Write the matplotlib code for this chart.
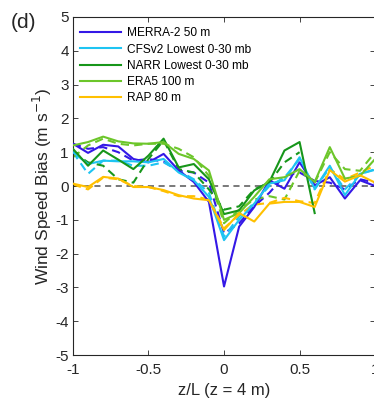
import numpy as np
import matplotlib
matplotlib.use("Agg")
import matplotlib.pyplot as plt

plt.rcParams['font.family'] = ['Liberation Sans', 'DejaVu Sans']

# ---------------------
# Data
# ---------------------
zl = np.round(np.arange(-1.0, 1.01, 0.1), 1)

merra_solid = [1.25, 0.98, 1.22, 1.17, 0.80, 0.70, 0.95, 0.46, 0.12, -0.47, -2.97,
               -1.20, -0.62, 0.17, -0.08, 0.70, 0.02, 0.26, -0.37, 0.17, 0.00]
merra_dash = [1.25, 1.10, 1.15, 1.00, 0.75, 0.80, 0.72, 0.45, 0.40, 0.10, -1.40,
              -1.10, -0.60, -0.20, 0.30, 0.40, 0.15, 0.10, -0.10, 0.20, 0.10]

cfs_solid = [1.00, 0.65, 0.75, 0.73, 0.73, 0.70, 0.80, 0.40, 0.17, -0.32, -1.60,
             -1.00, -0.52, 0.07, 0.17, 0.85, -0.08, 0.60, -0.27, 0.36, 0.48]
cfs_dash = [1.00, 0.36, 0.75, 0.75, 0.60, 0.60, 0.70, 0.45, 0.20, -0.20, -1.50,
            -0.90, -0.50, 0.00, 0.25, 0.80, -0.10, 0.55, -0.10, 0.35, 0.50]

narr_solid = [1.10, 0.60, 1.05, 0.78, 0.50, 0.90, 1.40, 0.55, 0.65, 0.20, -0.83,
              -0.72, -0.13, 0.12, 1.05, 1.30, -0.80]
narr_dash = [1.00, 0.70, 0.60, 0.20, 0.10, 0.80, 1.35, 0.50, 0.40, -0.10, -0.70,
             -0.60, -0.10, 0.10, 0.70, 1.00]

era5_solid = [1.20, 1.30, 1.46, 1.32, 1.26, 1.25, 1.30, 0.95, 0.80, 0.46, -1.00,
              -0.80, -0.32, 0.20, 0.26, 0.50, 0.12, 1.15, 0.22, 0.30, 0.80]
era5_dash = [0.85, 1.20, 1.40, 1.25, 1.20, 1.25, 1.25, 1.10, 0.85, 0.30, -1.10,
             -0.70, -0.40, -0.30, -0.40, 0.45, 0.10, 1.00, 0.50, 0.45, 1.00]

rap_solid = [0.07, -0.03, 0.27, 0.22, -0.03, -0.03, -0.12, -0.27, -0.37, -0.42, -1.30,
             -0.80, -1.05, -0.52, -0.47, -0.47, -0.62, 0.47, 0.13, 0.32, 0.10]
rap_dash = [0.05, -0.10, 0.25, 0.20, 0.00, -0.03, -0.15, -0.30, -0.30, -0.40, -1.25,
            -0.85, -0.55, -0.50, -0.35, -0.45, -0.50, 0.50, 0.20, 0.40, 0.60]

labels = ['MERRA-2 50 m', 'CFSv2 Lowest 0-30 mb', 'NARR Lowest 0-30 mb',
          'ERA5 100 m', 'RAP 80 m']
colors = ['#3418e6', '#1ec4f2', '#17961a', '#6cc62a', '#ffc000']
solid = [merra_solid, cfs_solid, narr_solid, era5_solid, rap_solid]
dashed = [merra_dash, cfs_dash, narr_dash, era5_dash, rap_dash]

# ---------------------
# Plot
# ---------------------
fig = plt.figure(figsize=(3.74, 4.12), dpi=100)
ax = fig.add_axes([0.195, 0.138, 0.808, 0.821])

ax.axhline(0, color='#555555', lw=1.1, ls=(0, (4, 3)), zorder=1)

handles = []
for lab, c, ys, yd in zip(labels, colors, solid, dashed):
    h, = ax.plot(zl[:len(ys)], ys, color=c, lw=1.5, label=lab, zorder=3)
    ax.plot(zl[:len(yd)], yd, color=c, lw=1.5, ls=(0, (4, 2.5)), zorder=2)
    handles.append(h)

ax.set_xlim(-1, 1)
ax.set_ylim(-5, 5)
ax.set_xticks([-1, -0.5, 0, 0.5, 1])
ax.set_xticklabels(['-1', '-0.5', '0', '0.5', '1'])
ax.set_yticks(range(-5, 6))
ax.set_yticklabels([str(v) for v in range(-5, 6)])
ax.tick_params(direction='in', length=3.5, width=0.6, top=True, right=True,
               labelsize=11, colors='#262626')
ax.tick_params(axis='x', pad=6)
ax.tick_params(axis='y', pad=3)
for s in ax.spines.values():
    s.set_linewidth(0.8)
    s.set_color('#262626')

ax.set_xlabel('z/L (z = 4 m)', fontsize=12, color='#262626', labelpad=4)
ax.set_ylabel('Wind Speed Bias (m s$^{-1}$)', fontsize=12.5, color='#262626', labelpad=1)

ax.legend(handles=handles, loc='upper left', fontsize=8.6, frameon=False,
          handlelength=3.4, handletextpad=0.5, labelspacing=0.35,
          borderaxespad=0.2, bbox_to_anchor=(0.0, 0.99))

fig.text(0.03, 0.932, '(d)', fontsize=15, color='#262626')

fig.savefig('out.png', dpi=100)
